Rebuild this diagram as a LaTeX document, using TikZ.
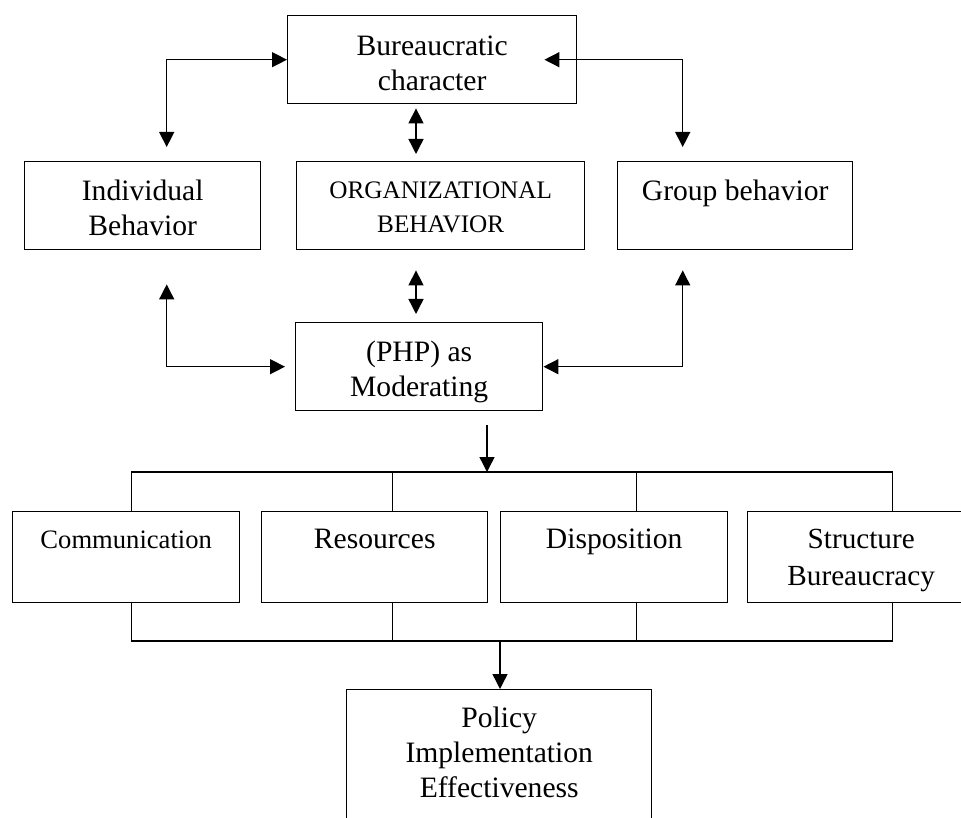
\documentclass[tikz,border=0pt]{standalone}
\usepackage{fontspec}
\setmainfont{Liberation Serif}
\usetikzlibrary{arrows.meta}

\begin{document}
\begin{tikzpicture}[
            x=0.5pt, y=-0.5pt,
            box/.style={draw, rectangle, align=center, inner sep=0pt, line width=0.7pt,
                anchor=north west, font=\fontsize{14.8}{17.5}\selectfont},
            rowbox/.style={box, minimum width=113.5pt, text height=18.5pt, text depth=27pt},
            biarrow/.style={line width=0.7pt, {Triangle[length=7.5pt,width=7.5pt]}-{Triangle[length=7.5pt,width=7.5pt]}},
            onearrow/.style={line width=0.7pt, -{Triangle[length=7.5pt,width=7.5pt]}},
            bus/.style={line width=0.7pt}
        ]
        \useasboundingbox (0,0) rectangle (961,817);

        \node[box, minimum width=144.5pt, text height=37.5pt, text depth=6.5pt] (bur) at (287,15) {Bureaucratic\\character};

        \node[box, minimum width=118pt, text height=37pt, text depth=7pt] (ind) at (24,161) {Individual\\Behavior};
        \node[box, minimum width=144pt, text height=35.5pt, text depth=8.5pt, font=\fontsize{12.6}{17}\selectfont] (org) at (296,161) {ORGANIZATIONAL\\BEHAVIOR};
        \node[box, minimum width=117.5pt, text height=19.5pt, text depth=24.5pt] (grp) at (617,161) {Group behavior};

        \node[box, minimum width=123.5pt, text height=37pt, text depth=7pt] (php) at (295,322) {(PHP) as\\Moderating};

        \node[rowbox, font=\fontsize{13.3}{17}\selectfont] (com) at (12,511) {Communication};
        \node[rowbox, minimum width=113pt] (res) at (261,511) {Resources};
        \node[rowbox] (dis) at (500,511) {Disposition};
        \node[rowbox, text height=37pt, text depth=8.5pt, font=\fontsize{14.6}{18.5}\selectfont] (str) at (747,511) {Structure\\Bureaucracy};

        \node[box, minimum width=152.5pt, text height=54pt, text depth=16.5pt] (pol) at (346,689) {Policy\\Implementation\\Effectiveness};

        \coordinate (mid) at (416,0);
        \coordinate (tbus) at (487,472);
        \coordinate (bbus) at (500,641);

        % around the middle row
        \draw[biarrow, shorten <=7pt] ([xshift=12pt]ind.north) |- (bur.west);
        \draw[biarrow, shorten <=7pt, shorten >=-16.5pt] ([xshift=-26.25pt]grp.north) |- (bur.east);
        \draw[biarrow, shorten <=2pt, shorten >=3.5pt] (bur.south -| mid) -- (org.north -| mid);
        \draw[biarrow, shorten <=10pt, shorten >=4pt] (org.south -| mid) -- (php.north -| mid);
        \draw[biarrow, shorten <=17pt, shorten >=5pt] ([xshift=12pt]ind.south) |- (php.west);
        \draw[biarrow, shorten <=10pt] ([xshift=-26.25pt]grp.south) |- (php.east);

        % buses
        \draw[onearrow, shorten <=7pt] (php.south -| tbus) -- (tbus);
        \draw[bus] ([xshift=2.75pt]com.north) |- (tbus) -| ([xshift=15.75pt]str.north);
        \draw[bus] ([xshift=9pt]res.north) -- ++(0,-39);
        \draw[bus] ([xshift=11.25pt]dis.north) -- ++(0,-39);
        \draw[bus] ([xshift=2.75pt]com.south) |- (bbus) -| ([xshift=15.75pt]str.south);
        \draw[bus] ([xshift=9pt]res.south) -- ++(0,39);
        \draw[bus] ([xshift=11.25pt]dis.south) -- ++(0,39);
        \draw[onearrow] (bbus) -- (pol.north -| bbus);
    \end{tikzpicture}
\end{document}
